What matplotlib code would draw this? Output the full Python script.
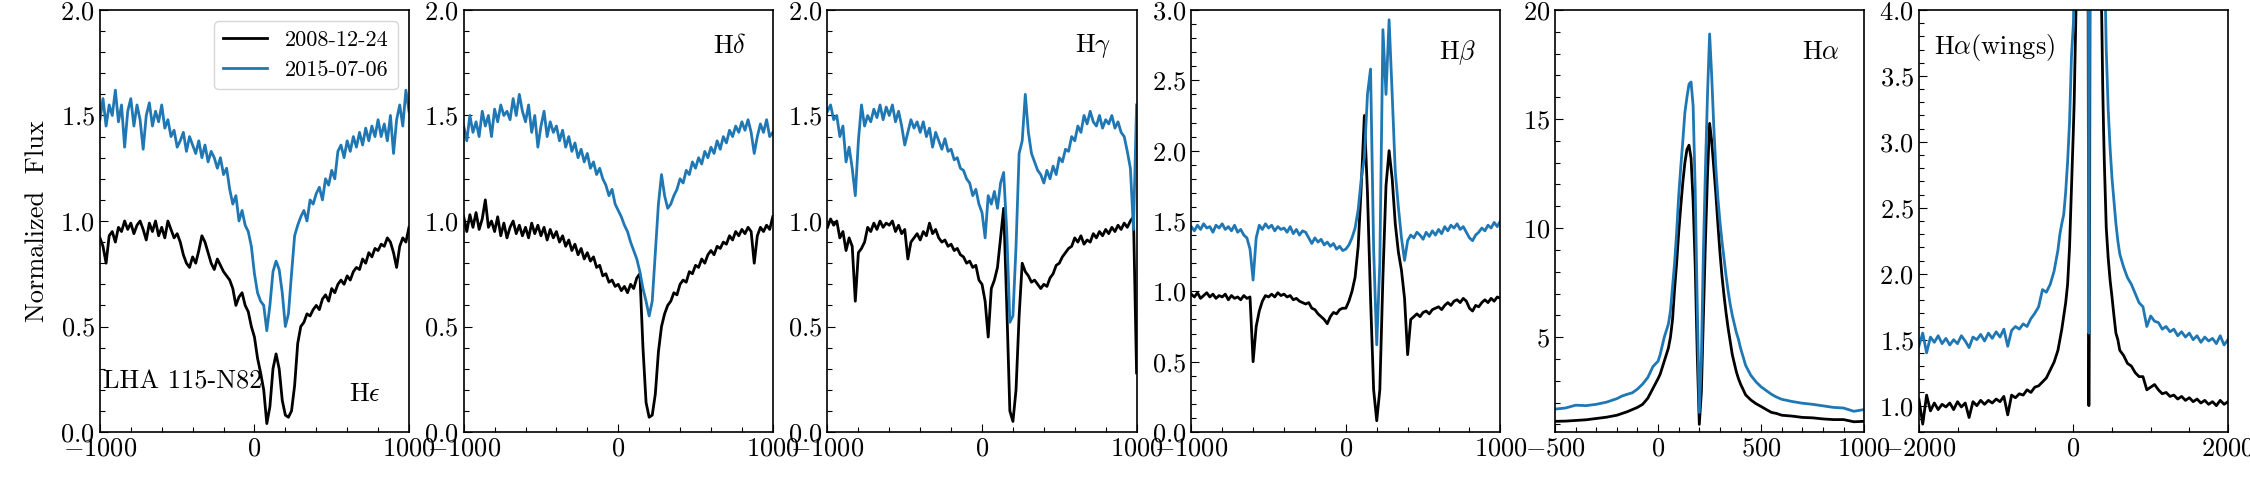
import numpy as np
import matplotlib
matplotlib.use('Agg')
import matplotlib.pyplot as plt
from matplotlib.ticker import MultipleLocator

plt.rcParams['font.family'] = 'serif'
plt.rcParams['font.serif'] = ['cmr10']
plt.rcParams['mathtext.fontset'] = 'cm'
plt.rcParams['axes.formatter.use_mathtext'] = True

# velocity grid (km/s) for the H-epsilon .. H-beta panels
vel = np.arange(-1000, 1001, 20)

he_2008 = [0.92,0.88,0.80,0.93,0.95,0.90,0.97,0.95,1.00,0.96,
           0.99,0.94,0.98,1.00,0.96,0.91,0.99,0.95,1.00,0.93,
           0.97,0.92,1.00,0.96,0.92,0.94,0.90,0.84,0.80,0.78,
           0.83,0.80,0.86,0.93,0.90,0.85,0.80,0.77,0.82,0.79,
           0.76,0.74,0.72,0.68,0.60,0.64,0.66,0.60,0.57,0.50,
           0.45,0.35,0.28,0.20,0.04,0.12,0.30,0.37,0.30,0.15,
           0.08,0.07,0.10,0.22,0.42,0.50,0.52,0.56,0.55,0.58,
           0.60,0.58,0.63,0.65,0.62,0.68,0.66,0.70,0.72,0.70,
           0.74,0.72,0.76,0.78,0.77,0.82,0.80,0.85,0.83,0.87,
           0.86,0.89,0.88,0.92,0.90,0.85,0.78,0.88,0.92,0.90,
           0.97]
he_2015 = [1.48,1.58,1.45,1.55,1.50,1.62,1.47,1.55,1.35,1.52,
           1.58,1.45,1.55,1.48,1.34,1.50,1.56,1.45,1.52,1.47,
           1.55,1.44,1.48,1.40,1.43,1.35,1.38,1.42,1.33,1.40,
           1.36,1.32,1.38,1.30,1.36,1.28,1.33,1.30,1.25,1.30,
           1.22,1.25,1.15,1.08,1.12,1.00,1.05,0.98,0.95,0.88,
           0.75,0.66,0.62,0.60,0.48,0.60,0.76,0.81,0.77,0.66,
           0.50,0.56,0.75,0.93,0.98,1.02,1.05,1.00,1.10,1.08,
           1.13,1.16,1.10,1.20,1.17,1.24,1.20,1.33,1.36,1.30,
           1.38,1.33,1.40,1.35,1.42,1.36,1.44,1.38,1.45,1.40,
           1.48,1.40,1.46,1.38,1.50,1.32,1.48,1.55,1.45,1.62,
           1.52]

hd_2008 = [1.02,0.95,1.03,0.97,1.04,0.96,1.01,1.10,0.97,1.00,
           0.95,1.02,0.93,0.99,0.92,0.97,1.00,0.94,0.98,0.93,
           0.97,0.92,0.99,0.94,0.98,0.93,0.97,0.91,0.96,0.92,
           0.95,0.90,0.93,0.88,0.91,0.86,0.89,0.84,0.87,0.82,
           0.85,0.81,0.83,0.78,0.79,0.74,0.75,0.71,0.72,0.69,
           0.70,0.67,0.69,0.66,0.70,0.68,0.73,0.75,0.40,0.14,
           0.07,0.08,0.18,0.38,0.50,0.56,0.60,0.62,0.66,0.65,
           0.70,0.72,0.71,0.76,0.75,0.79,0.78,0.82,0.80,0.84,
           0.86,0.84,0.88,0.87,0.90,0.89,0.93,0.91,0.95,0.93,
           0.96,0.94,0.97,0.95,0.80,0.93,0.97,0.95,0.98,0.96,
           1.02]
hd_2015 = [1.45,1.38,1.50,1.42,1.47,1.40,1.52,1.45,1.50,1.40,
           1.53,1.47,1.55,1.50,1.52,1.48,1.58,1.50,1.60,1.52,
           1.47,1.55,1.42,1.50,1.35,1.45,1.52,1.40,1.47,1.42,
           1.45,1.38,1.43,1.35,1.40,1.33,1.37,1.30,1.34,1.28,
           1.32,1.25,1.28,1.22,1.25,1.20,1.17,1.12,1.15,1.08,
           1.05,1.02,0.98,0.95,0.90,0.86,0.82,0.76,0.68,0.62,
           0.55,0.62,0.85,1.08,1.22,1.12,1.06,1.08,1.12,1.15,
           1.20,1.18,1.24,1.22,1.28,1.25,1.30,1.27,1.33,1.30,
           1.35,1.32,1.38,1.34,1.40,1.37,1.43,1.40,1.45,1.42,
           1.47,1.43,1.48,1.42,1.32,1.40,1.46,1.42,1.48,1.40,
           1.42]

hg_2008 = [0.97,1.01,0.98,1.00,0.92,0.95,0.86,0.92,0.88,0.62,
           0.85,0.87,0.90,0.97,0.95,0.99,0.96,1.00,0.97,0.99,
           0.98,1.00,0.95,0.98,0.94,0.96,0.82,0.90,0.92,0.94,
           0.91,0.95,0.93,0.99,0.94,0.96,0.92,0.90,0.91,0.88,
           0.89,0.86,0.87,0.84,0.83,0.80,0.81,0.78,0.79,0.72,
           0.70,0.62,0.45,0.68,0.72,0.78,0.92,1.06,0.60,0.10,
           0.05,0.20,0.55,0.80,0.76,0.74,0.71,0.72,0.70,0.68,
           0.70,0.69,0.73,0.75,0.79,0.80,0.83,0.85,0.87,0.88,
           0.92,0.90,0.93,0.89,0.91,0.90,0.94,0.92,0.95,0.93,
           0.96,0.94,0.97,0.95,0.98,0.96,0.99,0.97,1.00,1.02,
           0.28]
hg_2015 = [1.52,1.55,1.48,1.50,1.40,1.45,1.28,1.35,1.25,1.12,
           1.38,1.55,1.45,1.50,1.47,1.53,1.49,1.55,1.48,1.54,
           1.50,1.55,1.47,1.52,1.45,1.36,1.42,1.48,1.44,1.47,
           1.42,1.47,1.40,1.44,1.35,1.42,1.38,1.34,1.39,1.33,
           1.34,1.29,1.30,1.25,1.24,1.20,1.18,1.12,1.15,1.08,
           1.04,0.92,1.12,1.08,1.14,1.06,1.18,1.23,0.95,0.52,
           0.55,0.88,1.32,1.38,1.60,1.42,1.32,1.28,1.24,1.22,
           1.18,1.24,1.20,1.26,1.22,1.30,1.28,1.34,1.33,1.40,
           1.38,1.45,1.42,1.50,1.46,1.52,1.47,1.45,1.50,1.44,
           1.48,1.46,1.50,1.44,1.47,1.42,1.40,1.33,1.25,0.96,
           1.55]

hb_2008 = [0.98,0.96,0.99,0.95,0.97,0.99,0.96,0.98,0.95,0.97,
           0.96,0.98,0.94,0.97,0.95,0.96,0.94,0.97,0.95,0.96,
           0.50,0.75,0.86,0.93,0.97,0.96,0.98,0.96,0.99,0.97,
           0.98,0.96,0.97,0.94,0.95,0.93,0.92,0.91,0.92,0.88,
           0.87,0.84,0.82,0.80,0.77,0.82,0.85,0.84,0.87,0.88,
           0.88,0.93,1.00,1.10,1.32,1.75,2.25,1.70,0.95,0.30,
           0.08,0.30,1.10,1.75,2.00,1.80,1.48,1.28,1.15,0.95,
           0.55,0.80,0.82,0.84,0.82,0.85,0.86,0.84,0.87,0.88,
           0.89,0.87,0.90,0.92,0.90,0.93,0.94,0.92,0.95,0.93,
           0.88,0.86,0.90,0.89,0.92,0.94,0.92,0.95,0.93,0.96,
           0.95]
hb_2015 = [1.46,1.43,1.47,1.44,1.48,1.45,1.46,1.42,1.47,1.45,
           1.48,1.44,1.46,1.43,1.47,1.42,1.44,1.40,1.38,1.30,
           1.08,1.38,1.47,1.44,1.48,1.45,1.47,1.43,1.46,1.44,
           1.45,1.42,1.46,1.41,1.44,1.40,1.43,1.42,1.38,1.34,
           1.38,1.35,1.37,1.33,1.35,1.32,1.34,1.30,1.32,1.29,
           1.30,1.33,1.38,1.45,1.58,1.80,1.95,2.40,2.58,1.30,
           0.62,1.20,2.86,2.40,2.93,2.40,1.85,1.60,1.38,1.22,
           1.36,1.40,1.38,1.42,1.40,1.37,1.42,1.39,1.43,1.40,
           1.44,1.41,1.46,1.43,1.47,1.45,1.48,1.44,1.46,1.42,
           1.38,1.36,1.40,1.42,1.45,1.43,1.47,1.45,1.49,1.46,
           1.50]

# H-alpha: finer sampling in the core
ha_vel = np.concatenate([np.arange(-2000, -200, 50), np.arange(-200, 0, 25),
                         np.arange(0, 400, 10), np.arange(400, 600, 25),
                         np.arange(600, 2001, 50)])
ha_2008 = [1.05,0.86,1.08,0.96,1.02,0.97,1.01,0.99,1.02,0.97,
           1.03,0.99,1.02,0.91,1.03,1.00,1.04,1.01,1.04,1.02,
           1.05,1.03,1.07,0.93,1.08,1.06,1.09,1.08,1.12,1.10,
           1.14,1.15,1.18,1.21,1.27,1.33,
           1.42,1.50,1.58,1.68,1.78,1.92,2.20,2.65,
           3.1,3.3,3.6,3.9,4.2,4.5,5.0,5.8,7.2,8.4,
           9.8,11.0,12.1,13.0,13.6,13.8,13.2,11.2,8.3,4.2,
           1.0,2.5,6.0,9.5,12.5,14.8,14.0,12.8,11.6,10.2,
           8.9,7.8,6.9,6.1,5.4,4.8,4.2,3.8,3.4,3.1,
           2.85,2.35,2.12,1.95,1.82,1.68,1.55,1.50,
           1.42,1.38,1.32,1.30,1.25,1.22,1.22,1.12,1.14,1.16,
           1.12,1.09,1.10,1.07,1.08,1.05,1.07,1.04,1.06,1.03,
           1.05,1.02,1.04,1.01,1.03,1.00,1.04,1.01,1.03]
ha_2015 = [1.45,1.55,1.40,1.52,1.48,1.53,1.47,1.51,1.46,1.50,
           1.47,1.53,1.49,1.44,1.52,1.50,1.54,1.49,1.55,1.51,
           1.56,1.52,1.58,1.45,1.57,1.60,1.58,1.62,1.60,1.66,
           1.70,1.75,1.88,1.86,1.92,2.02,
           2.18,2.30,2.38,2.45,2.62,2.85,3.15,3.65,
           3.9,4.2,4.6,5.0,5.3,5.6,6.2,7.3,8.4,9.8,
           11.5,12.8,14.0,15.3,16.0,16.6,16.7,15.6,11.8,6.5,
           1.55,4.0,9.0,12.8,16.2,18.9,17.0,14.7,12.8,11.4,
           10.3,9.4,8.6,7.8,7.1,6.5,6.0,5.6,5.2,4.9,
           4.5,3.7,3.25,2.95,2.72,2.55,2.38,2.25,
           2.15,2.05,1.97,1.92,1.85,1.78,1.75,1.60,1.68,1.64,
           1.63,1.58,1.60,1.56,1.58,1.53,1.56,1.52,1.55,1.50,
           1.53,1.48,1.52,1.49,1.51,1.47,1.53,1.46,1.50]

labels = ['2008-12-24', '2015-07-06']
blue = '#1f77b4'

fig, axes = plt.subplots(1, 6, figsize=(22.5, 4.82), dpi=100)
fig.subplots_adjust(left=0.0444, right=0.9902, bottom=0.1037, top=0.9793, wspace=0.177)

panels = [
    (vel, he_2008, he_2015, (-1000, 1000), (0, 2), 1000, 200, 0.5, 0.1),
    (vel, hd_2008, hd_2015, (-1000, 1000), (0, 2), 1000, 200, 0.5, 0.1),
    (vel, hg_2008, hg_2015, (-1000, 1000), (0, 2), 1000, 200, 0.5, 0.1),
    (vel, hb_2008, hb_2015, (-1000, 1000), (0, 3), 1000, 200, 0.5, 0.1),
    (ha_vel, ha_2008, ha_2015, (-500, 1000), (0.65, 20), 500, 100, 5, 1),
    (ha_vel, ha_2008, ha_2015, (-2000, 2000), (0.8, 4), 2000, 500, 0.5, 0.1),
]

for ax, (x, y1, y2, xl, yl, xmaj, xmin, ymaj, ymin) in zip(axes, panels):
    ax.plot(x, y1, color='k', lw=2.0, label=labels[0])
    ax.plot(x, y2, color=blue, lw=2.0, label=labels[1])
    ax.set_xlim(xl)
    ax.set_ylim(yl)
    ax.xaxis.set_major_locator(MultipleLocator(xmaj))
    ax.xaxis.set_minor_locator(MultipleLocator(xmin))
    ax.yaxis.set_major_locator(MultipleLocator(ymaj))
    ax.yaxis.set_minor_locator(MultipleLocator(ymin))
    ax.tick_params(which='both', direction='in', labelsize=19, width=0.8)
    ax.tick_params(which='major', length=6)
    ax.tick_params(which='minor', length=3.5)
    for s in ax.spines.values():
        s.set_linewidth(1.2)

axes[0].set_ylabel('Normalized  Flux', fontsize=19, labelpad=8)
axes[0].legend(loc='upper right', fontsize=16)
axes[0].text(0.01, 0.12, 'LHA 115-N82', transform=axes[0].transAxes, fontsize=19, va='center')
axes[0].text(0.805, 0.09, r'H$\epsilon$', transform=axes[0].transAxes, fontsize=19, va='center')
axes[1].text(0.805, 0.915, r'H$\delta$', transform=axes[1].transAxes, fontsize=19, va='center')
axes[2].text(0.80, 0.915, r'H$\gamma$', transform=axes[2].transAxes, fontsize=19, va='center')
axes[3].text(0.80, 0.90, r'H$\beta$', transform=axes[3].transAxes, fontsize=19, va='center')
axes[4].text(0.80, 0.90, r'H$\alpha$', transform=axes[4].transAxes, fontsize=19, va='center')
axes[5].text(0.05, 0.91, r'H$\alpha$(wings)', transform=axes[5].transAxes, fontsize=19, va='center')

fig.savefig('out.png', dpi=100)
